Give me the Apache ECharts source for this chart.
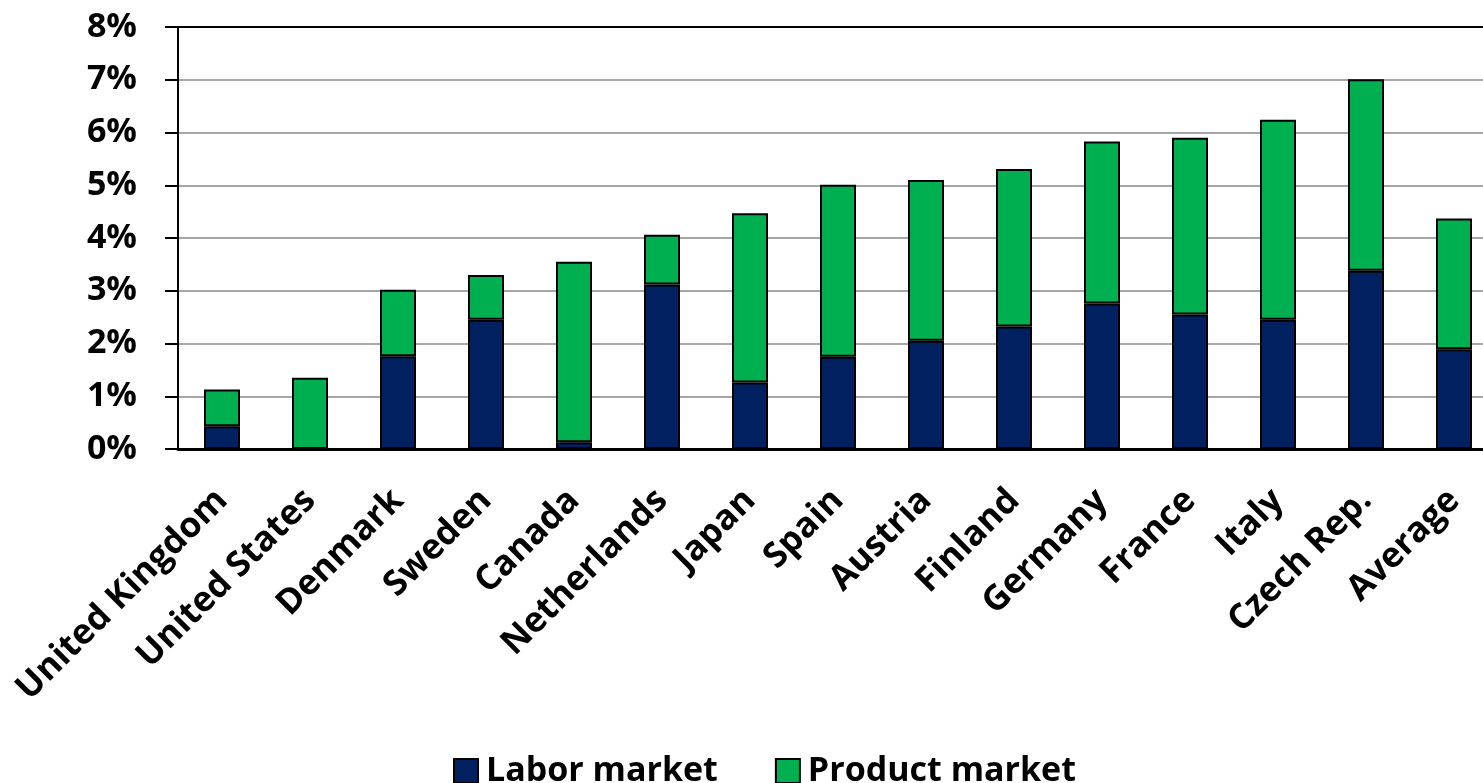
<!DOCTYPE html>
<html>
<head>
<meta charset="utf-8">
<title>Labor and product market</title>
<script src="https://cdn.jsdelivr.net/npm/echarts@6/dist/echarts.min.js"></script>
<style>
  html, body { margin: 0; padding: 0; background: #ffffff; overflow: hidden; }
  /* the plot area runs a little past the right edge of the window */
  #chart { width: 1498px; height: 783px; }
</style>
</head>
<body>
<div id="chart"></div>
<script>
// Countries along the horizontal axis
const categories = ['United Kingdom', 'United States', 'Denmark', 'Sweden', 'Canada',
  'Netherlands', 'Japan', 'Spain', 'Austria', 'Finland', 'Germany', 'France',
  'Italy', 'Czech Rep.', 'Average'];

// Stacked contributions, in percent
const laborMarket   = [0.43, 0.00, 1.76, 2.45, 0.13, 3.12, 1.26, 1.75, 2.05, 2.32, 2.76, 2.55, 2.45, 3.38, 1.89];
const productMarket = [0.70, 1.35, 1.26, 0.85, 3.42, 0.94, 3.21, 3.26, 3.05, 2.99, 3.07, 3.35, 3.79, 3.63, 2.48];

// Value-axis range and step
const yMin = 0, yMax = 8, yStep = 1;

const FONT = '"Open Sans", "Liberation Sans", sans-serif';
const gridColors = [];
for (let v = yMin; v <= yMax; v += yStep) gridColors.push(v === yMax ? '#000000' : '#A6A6A6');

const chart = echarts.init(document.getElementById('chart'), null, { renderer: 'canvas' });
chart.setOption({
  animation: false,
  backgroundColor: '#ffffff',
  textStyle: { fontFamily: FONT },
  grid: { left: 178, top: 27, right: 0, bottom: 334, containLabel: false },
  legend: {
    top: 749,
    left: 448,
    selectedMode: false,
    itemWidth: 24,
    itemHeight: 24,
    itemGap: 57,
    icon: 'rect',
    textStyle: { fontFamily: FONT, fontSize: 34, fontWeight: 'bold', color: '#000', padding: [0, 0, 0, 3] },
    data: ['Labor market', 'Product market']
  },
  xAxis: {
    type: 'category',
    data: categories,
    boundaryGap: true,
    axisLine: { show: true, lineStyle: { color: '#000', width: 3 } },
    axisTick: { show: false },
    axisLabel: {
      rotate: 45,
      margin: 46,
      interval: 0,
      fontFamily: FONT,
      fontSize: 35,
      fontWeight: 'bold',
      color: '#000'
    },
    splitLine: { show: false }
  },
  yAxis: {
    type: 'value',
    min: yMin,
    max: yMax,
    interval: yStep,
    axisLine: { show: true, lineStyle: { color: '#000', width: 2 } },
    axisTick: { show: true, inside: false, length: 13, lineStyle: { color: '#000', width: 2 } },
    axisLabel: {
      margin: 41,
      fontFamily: FONT,
      fontSize: 34,
      fontWeight: 'bold',
      color: '#000',
      formatter: v => v + '%'
    },
    splitLine: { show: true, lineStyle: { color: gridColors, width: 2 } }
  },
  series: [
    {
      name: 'Labor market',
      type: 'bar',
      stack: 'total',
      barWidth: 36,
      data: laborMarket,
      itemStyle: { color: '#002060', borderColor: '#000', borderWidth: 2 }
    },
    {
      name: 'Product market',
      type: 'bar',
      stack: 'total',
      barWidth: 36,
      data: productMarket,
      itemStyle: { color: '#00B050', borderColor: '#000', borderWidth: 2 }
    }
  ]
});
</script>
</body>
</html>
